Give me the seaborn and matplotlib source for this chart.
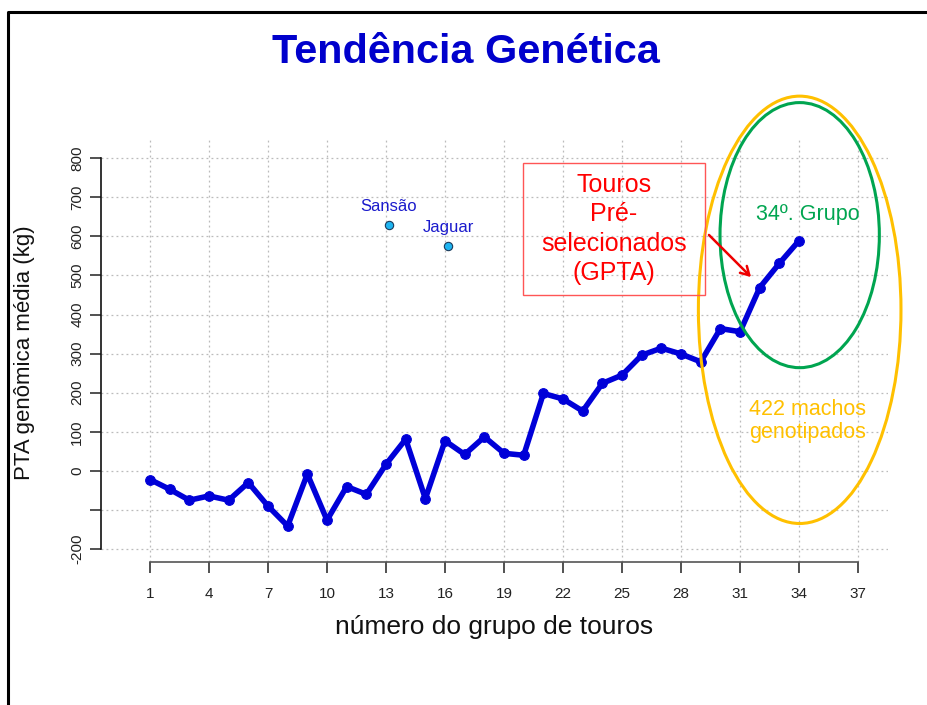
import matplotlib
matplotlib.use("Agg")
import matplotlib.pyplot as plt
from matplotlib.patches import Ellipse, Rectangle, FancyArrowPatch
from matplotlib.lines import Line2D
import seaborn as sns
import numpy as np
import pandas as pd

# ---- data ----
grupos = list(range(1, 35))
pta_media = [-22, -47, -75, -64, -75, -30, -90, -141, -8, -126,
             -40, -60, 17, 81, -71, 77, 42, 87, 45, 40,
             198, 184, 153, 224, 245, 296, 314, 299, 279, 364,
             356, 469, 531, 589]
touros_nomes = ["Sansão", "Jaguar"]
touros_x = [13.15, 16.15]
touros_pta = [629, 575]
x_ticks = list(range(1, 38, 3))
y_ticks = list(range(-200, 801, 100))
y_ticklabels = ["-200", "", "0", "100", "200", "300", "400", "500", "600", "700", "800"]

sns.set_theme(style="white")
plt.rcParams['font.family'] = ['Liberation Sans', 'DejaVu Sans']

W, H = 928, 705
fig = plt.figure(figsize=(W / 100, H / 100), dpi=100)
ax_l, ax_r, ax_t, ax_b = 101, 888, 137, 562
ax = fig.add_axes([ax_l / W, 1 - ax_b / H, (ax_r - ax_l) / W, (ax_b - ax_t) / H])

df = pd.DataFrame({"grupo": grupos, "pta": pta_media})
blue = "#0000D8"
sns.lineplot(data=df, x="grupo", y="pta", ax=ax, color=blue, linewidth=4.0,
             marker="o", markersize=7, markeredgecolor=blue, markerfacecolor=blue,
             zorder=5, clip_on=False)

dft = pd.DataFrame({"x": touros_x, "y": touros_pta})
sns.scatterplot(data=dft, x="x", y="y", ax=ax, color="#1EB4F0", edgecolor="#1a3a5a",
                s=36, linewidth=0.8, zorder=6)
ax.text(touros_x[0], touros_pta[0] + 28, touros_nomes[0], color="#1a1acc",
        fontsize=12, ha="center", va="bottom")
ax.text(touros_x[1], touros_pta[1] + 28, touros_nomes[1], color="#1a1acc",
        fontsize=12, ha="center", va="bottom")

ax.set_xlim(-1.49, 38.52)
ax.set_ylim(-233, 854)
ax.set_xticks(x_ticks)
ax.set_yticks(y_ticks)
ax.set_yticklabels(y_ticklabels, rotation=90, va="center")
ax.tick_params(axis="both", which="both", length=8, width=1.2, color="#333333",
               labelcolor="#222222", labelsize=11, direction="out",
               bottom=True, left=True)
ax.tick_params(axis="x", pad=10)
ax.tick_params(axis="y", pad=4)
ax.grid(True, linestyle=(0, (1.5, 2.5)), color="#bbbbbb", linewidth=0.9)
ax.set_axisbelow(True)

for s in ["top", "right"]:
    ax.spines[s].set_visible(False)
ax.spines["left"].set_bounds(-200, 800)
ax.spines["bottom"].set_bounds(1, 37)
ax.spines["left"].set_color("#111111")
ax.spines["bottom"].set_color("#555555")
ax.spines["left"].set_linewidth(1.2)
ax.spines["bottom"].set_linewidth(1.2)
ax.set_xlabel("")
ax.set_ylabel("")

# ellipses
ax.add_patch(Ellipse((34.03, 412), 10.3, 1093, fill=False, edgecolor="#FFC000",
                     linewidth=2.2, clip_on=False, zorder=7))
ax.add_patch(Ellipse((34.03, 603), 8.1, 678, fill=False, edgecolor="#00A550",
                     linewidth=2.2, clip_on=False, zorder=7))
ax.text(34.45, 657, "34º. Grupo", color="#00A550", fontsize=15.5, ha="center", va="center")
ax.text(34.45, 127, "422 machos\ngenotipados", color="#FFC000", fontsize=15.5,
        ha="center", va="center", linespacing=1.15)

# labels, title
fig.text(466 / W, 1 - 52 / H, "Tendência Genética", color="#0000CC", fontsize=29.8,
         fontweight="bold", ha="center", va="center")
fig.text(494 / W, 1 - 627 / H, "número do grupo de touros", color="#111111",
         fontsize=19, ha="center", va="center")
fig.text(25 / W, 1 - 353 / H, "PTA genômica média (kg)", color="#111111",
         fontsize=16, ha="center", va="center", rotation=90)

# red annotation box
fig.patches.append(Rectangle((523 / W, 1 - 295 / H), (705 - 523) / W, (295 - 163) / H,
                             transform=fig.transFigure, fill=False,
                             edgecolor="#FF5555", linewidth=1.0))
fig.text(614 / W, 1 - 229 / H, "Touros\nPré-\nselecionados\n(GPTA)", color="#FF0000",
         fontsize=18, ha="center", va="center", linespacing=1.28)
fig.patches.append(FancyArrowPatch((707 / W, 1 - 233 / H), (753 / W, 1 - 279 / H),
                                   transform=fig.transFigure, arrowstyle="->,head_length=6,head_width=3.5",
                                   color="#EE0000", linewidth=1.8))

# slide border
fig.lines.append(Line2D([8 / W, 8 / W, 1.0], [0, 1 - 11.5 / H, 1 - 11.5 / H],
                        transform=fig.transFigure, color="black", linewidth=2.2))

fig.savefig("out.png", dpi=100, facecolor="white")
